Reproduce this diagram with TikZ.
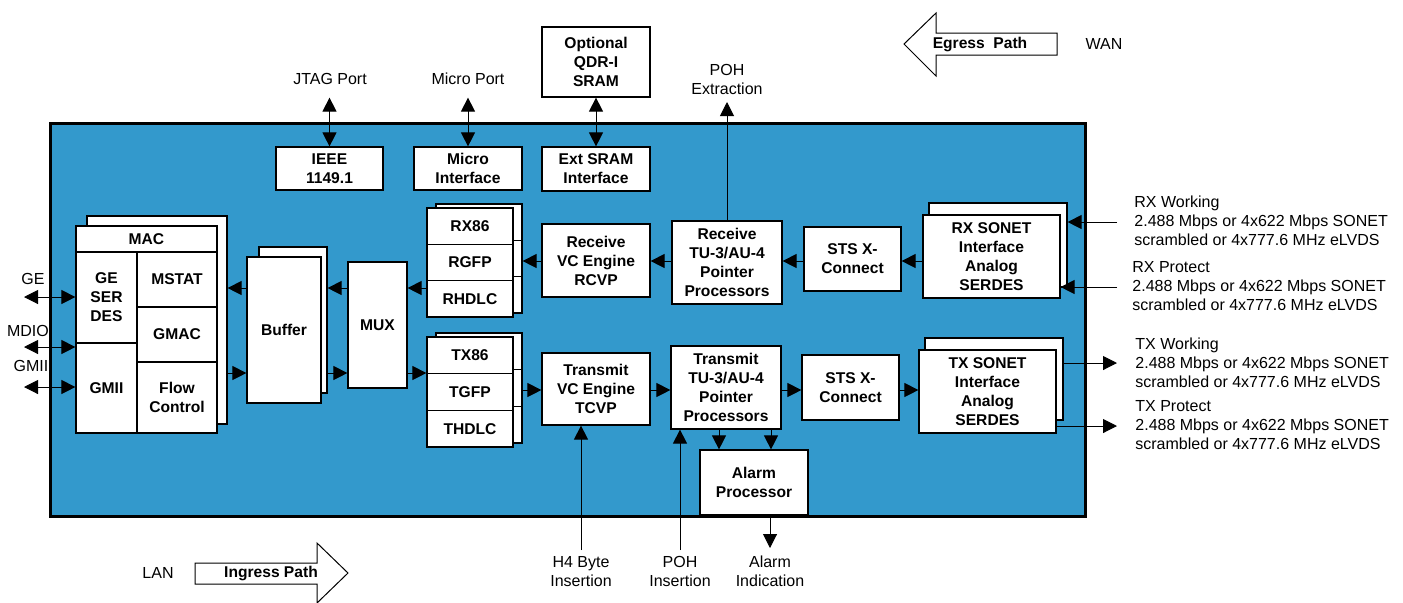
\documentclass[tikz,border=0pt]{standalone}
\usepackage{fontspec}
\setmainfont{Liberation Sans}
\usetikzlibrary{arrows.meta,positioning}
\definecolor{chipblue}{RGB}{51,153,204}

\begin{document}
\begin{tikzpicture}[
    x=0.5pt, y=-0.5pt,
    block/.style={rectangle, draw, fill=white, line width=0.6pt, inner sep=0pt, align=center, font=\fontsize{7.8}{9.5}\selectfont\bfseries},
    lbl/.style={inner sep=0pt, align=center, font=\fontsize{8}{9.5}\selectfont},
    arrow/.style={-{Triangle[length=7pt,width=7pt]}, line width=0.5pt},
    dblarrow/.style={{Triangle[length=7pt,width=7pt]}-{Triangle[length=7pt,width=7pt]}, line width=0.5pt}
]
\useasboundingbox (0,0) rectangle (1403,602);

\node[draw, fill=chipblue, line width=1.5pt, inner sep=0pt, minimum width=517.5pt, minimum height=196.5pt] (chip) at (567.5,319.5) {};

\node[block, minimum width=53.5pt, minimum height=21.5pt] (ieee) at (329.5,168.5) {IEEE\\1149.1};
\node[block, minimum width=54pt, minimum height=21.5pt] (micro) at (468,168.5) {Micro\\Interface};
\node[block, minimum width=54pt, minimum height=22pt] (extsram) at (596,169) {Ext SRAM\\Interface};
\node[block, minimum width=54pt, minimum height=35pt] (qdr) at (596,62) {Optional\\QDR-I\\SRAM};

\node[block, minimum width=70pt, minimum height=104pt] (macb) at (157,320) {};
\node[block, minimum width=70.5pt, minimum height=13pt] (mac) at (146.5,239) {MAC};
\node[block, minimum width=30.5pt, minimum height=45.5pt] (geserdes) at (106.5,297.5) {GE\\SER\\DES};
\node[block, minimum width=30.5pt, minimum height=45pt] (gmii) at (106.5,388) {GMII};
\node[block, minimum width=40pt, minimum height=27.5pt] (mstat) at (177,279.5) {MSTAT};
\node[block, minimum width=40pt, minimum height=27.5pt] (gmac) at (177,334.5) {GMAC};
\node[block, minimum width=40pt, minimum height=35.5pt] (flow) at (177,397.5) {Flow\\Control};

\node[block, minimum width=34pt, minimum height=73pt] (bufb) at (293,320) {};
\node[block, minimum width=37pt, minimum height=73pt] (buf) at (284,330) {Buffer};
\node[block, minimum width=29.5pt, minimum height=63pt] (mux) at (377.5,325) {MUX};

\node[block, minimum width=43pt, minimum height=18.17pt] (rx86b) at (479,222.2) {};
\node[block, minimum width=43pt, minimum height=18.17pt] (rgfpb) at (479,258.5) {};
\node[block, minimum width=43pt, minimum height=18.17pt] (rhdlcb) at (479,294.8) {};
\node[block, minimum width=43pt, minimum height=18.17pt] (rx86) at (470,226.2) {RX86};
\node[block, minimum width=43pt, minimum height=18.17pt] (rgfp) at (470,262.5) {RGFP};
\node[block, minimum width=43pt, minimum height=18.17pt] (rhdlc) at (470,298.8) {RHDLC};

\node[block, minimum width=43pt, minimum height=18.33pt] (tx86b) at (479,351.3) {};
\node[block, minimum width=43pt, minimum height=18.33pt] (tgfpb) at (479,388) {};
\node[block, minimum width=43pt, minimum height=18.33pt] (thdlcb) at (479,424.7) {};
\node[block, minimum width=43pt, minimum height=18.33pt] (tx86) at (470,355.3) {TX86};
\node[block, minimum width=43pt, minimum height=18.33pt] (tgfp) at (470,392) {TGFP};
\node[block, minimum width=43pt, minimum height=18.33pt] (thdlc) at (470,428.7) {THDLC};

\node[block, minimum width=54pt, minimum height=36.5pt] (rcvp) at (596,260.5) {Receive\\VC Engine\\RCVP};
\node[block, minimum width=55pt, minimum height=41.5pt] (rtu) at (727,262.5) {Receive\\TU-3/AU-4\\Pointer\\Processors};
\node[block, minimum width=48.5pt, minimum height=32pt] (rsts) at (852.5,259) {STS X-\\Connect};
\node[block, minimum width=69pt, minimum height=42pt] (rsonetb) at (998,245) {};
\node[block, minimum width=68.5pt, minimum height=41.5pt] (rsonet) at (991.5,256.5) {RX SONET\\Interface\\Analog\\SERDES};

\node[block, minimum width=54pt, minimum height=36pt] (tcvp) at (596,389) {Transmit\\VC Engine\\TCVP};
\node[block, minimum width=55pt, minimum height=41.5pt] (ttu) at (726,387.5) {Transmit\\TU-3/AU-4\\Pointer\\Processors};
\node[block, minimum width=48.5pt, minimum height=32.5pt] (tsts) at (850.5,387.5) {STS X-\\Connect};
\node[block, minimum width=69pt, minimum height=41pt] (tsonetb) at (994,379) {};
\node[block, minimum width=68.5pt, minimum height=41.5pt] (tsonet) at (987.5,391.5) {TX SONET\\Interface\\Analog\\SERDES};
\node[block, minimum width=54pt, minimum height=32.5pt] (alarm) at (754,482.5) {Alarm\\Processor};

\node[lbl] (jtag) at (330,79) {JTAG Port};
\node[lbl] (mport) at (468,79) {Micro Port};
\node[lbl] (pohx) at (727,79.5) {POH\\Extraction};
\node[lbl] (ge) at (33,279) {GE};
\node[lbl] (mdio) at (28,331) {MDIO};
\node[lbl] (gmiil) at (31,366) {GMII};
\node[lbl] (h4) at (581,571.5) {H4 Byte\\Insertion};
\node[lbl] (pohi) at (680,571.5) {POH\\Insertion};
\node[lbl] (alarmi) at (770,571.5) {Alarm\\Indication};
\node[lbl] (lan) at (158,573) {LAN};
\node[lbl] (wan) at (1104,44) {WAN};
\node[lbl, anchor=west, align=left] (rxw) at (1134,221) {RX Working\\2.488 Mbps or 4x622 Mbps SONET\\scrambled or 4x777.6 MHz eLVDS};
\node[lbl, anchor=west, align=left] (rxp) at (1132,286) {RX Protect\\2.488 Mbps or 4x622 Mbps SONET\\scrambled or 4x777.6 MHz eLVDS};
\node[lbl, anchor=west, align=left] (txw) at (1135,363) {TX Working\\2.488 Mbps or 4x622 Mbps SONET\\scrambled or 4x777.6 MHz eLVDS};
\node[lbl, anchor=west, align=left] (txp) at (1135,425) {TX Protect\\2.488 Mbps or 4x622 Mbps SONET\\scrambled or 4x777.6 MHz eLVDS};

\draw[fill=white, line width=0.5pt] (904,44) -- (936,13) -- (936,33) -- (1057,33) -- (1057,55) -- (936,55) -- (936,76) -- cycle;
\node[lbl, font=\fontsize{7.8}{9.5}\selectfont\bfseries] (egress) at (980,44) {Egress~~Path};
\draw[fill=white, line width=0.5pt] (195,563) -- (317,563) -- (317,543) -- (348,573) -- (317,603) -- (317,584) -- (195,584) -- cycle;
\node[lbl, font=\fontsize{7.8}{9.5}\selectfont\bfseries] (ingress) at (271,573) {Ingress Path};

\coordinate (rxrow) at (0,261);
\coordinate (txrow) at (0,390);
\coordinate (uprow) at (0,288);
\coordinate (dnrow) at (0,373);

\draw[arrow] (rsonet.west |- rxrow) -- (rsts.east |- rxrow);
\draw[arrow] (rsts.west |- rxrow) -- (rtu.east |- rxrow);
\draw[arrow] (rtu.west |- rxrow) -- (rcvp.east |- rxrow);
\draw[arrow] (rcvp.west |- rxrow) -- (rgfpb.east |- rxrow);
\draw[arrow] (rhdlc.west |- uprow) -- (mux.east |- uprow);
\draw[arrow] (mux.west |- uprow) -- (bufb.east |- uprow);
\draw[arrow] (buf.west |- uprow) -- (macb.east |- uprow);
\draw[arrow] (macb.east |- dnrow) -- (buf.west |- dnrow);
\draw[arrow] (bufb.east |- dnrow) -- (mux.west |- dnrow);
\draw[arrow] (mux.east |- dnrow) -- (tx86.west |- dnrow);
\draw[arrow] (tgfpb.east |- txrow) -- (tcvp.west |- txrow);
\draw[arrow] (tcvp.east |- txrow) -- (ttu.west |- txrow);
\draw[arrow] (ttu.east |- txrow) -- (tsts.west |- txrow);
\draw[arrow] (tsts.east |- txrow) -- (tsonet.west |- txrow);

\coordinate (jtagtip) at (ieee.north |- qdr.south);
\coordinate (mporttip) at (micro.north |- qdr.south);
\coordinate (pohxtip) at (727,102);
\draw[dblarrow] (ieee.north) -- (jtagtip);
\draw[dblarrow] (micro.north) -- (mporttip);
\draw[dblarrow] (extsram.north) -- (qdr.south);
\draw[arrow] (rtu.north) -- (pohxtip);

\coordinate (h4end) at (581,550);
\coordinate (pohiend) at (680,550);
\coordinate (alarma) at (719,0);
\coordinate (alarmb) at (771,0);
\coordinate (alarmend) at (770,548);
\draw[arrow] (h4end) -- (h4end |- tcvp.south);
\draw[arrow] (pohiend) -- (pohiend |- ttu.south);
\draw[arrow] (alarma |- ttu.south) -- (alarma |- alarm.north);
\draw[arrow] (alarmb |- ttu.south) -- (alarmb |- alarm.north);
\draw[arrow] (alarmend |- alarm.south) -- (alarmend);

\coordinate (geend) at (24,297);
\coordinate (mdioend) at (24,347);
\coordinate (gmiiend) at (24,387);
\draw[dblarrow] (geend) -- (geserdes.west |- geend);
\draw[dblarrow] (mdioend) -- (gmii.west |- mdioend);
\draw[dblarrow] (gmiiend) -- (gmii.west |- gmiiend);

\coordinate (rxwend) at (1117,222);
\coordinate (rxpend) at (1117,287);
\coordinate (txwend) at (1117,363);
\coordinate (txpend) at (1117,426);
\draw[arrow] (rxwend) -- (rsonetb.east |- rxwend);
\draw[arrow] (rxpend) -- (rsonet.east |- rxpend);
\draw[arrow] (tsonetb.east |- txwend) -- (txwend);
\draw[arrow] (tsonet.east |- txpend) -- (txpend);
\end{tikzpicture}
\end{document}
